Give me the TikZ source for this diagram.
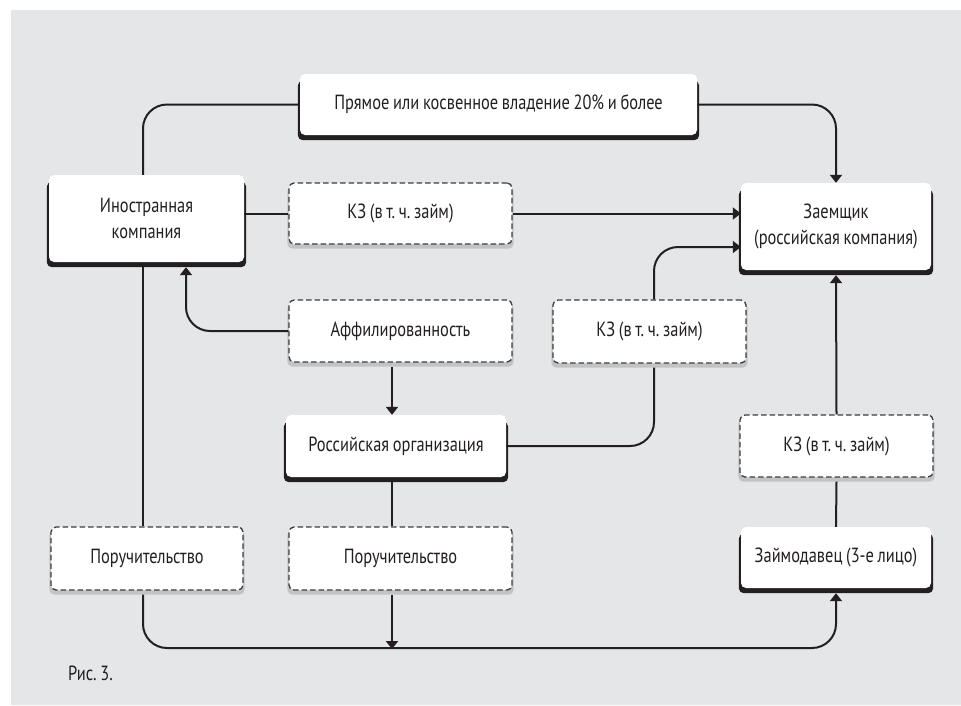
\documentclass[tikz,border=0pt]{standalone}
\usepackage{fontspec}
\setmainfont[FakeStretch=0.8,WordSpace=0.85]{PT Sans}
\frenchspacing
\usetikzlibrary{arrows.meta}
\definecolor{bggray}{HTML}{E5E6E8}
\definecolor{dashgray}{HTML}{3C3C3C}
\definecolor{shgray}{HTML}{C2C3C5}
\definecolor{ink}{HTML}{231F20}
\pgfdeclarelayer{bglayer}
\pgfdeclarelayer{shadowlayer}
\pgfsetlayers{bglayer,shadowlayer,main}
\tikzset{
  txt/.style={font=\fontsize{20.5}{26}\selectfont, text=ink, align=center, inner sep=0pt},
  solidbox/.style={txt, fill=white, rounded corners=5pt},
  dashbox/.style={txt, fill=white, draw=dashgray, line width=1.3pt, dash pattern=on 5.5pt off 3pt, rounded corners=5pt},
  conn/.style={draw=ink, line width=2pt, rounded corners=24pt},
  arr/.style={conn, -{Triangle[width=12pt,length=8pt]}},
}
\begin{document}
\begin{tikzpicture}[x=1pt,y=-1pt]
\useasboundingbox (0,0) rectangle (961,705);
\begin{pgfonlayer}{bglayer}
\fill[bggray, rounded corners=6pt] (11,10) -- (961,10) [sharp corners] -- (961,705) -- (11,705) -- cycle;
\fill[bggray] (900,10) rectangle (961,705);
\end{pgfonlayer}

% solid boxes
\node[solidbox, minimum width=397pt, minimum height=61pt] (top) at (498.5,104.5) {Прямое или косвенное владение 20\% и более};
\node[solidbox, minimum width=195pt, minimum height=87pt] (ino) at (146.5,218.5) {Иностранная\\компания};
\node[solidbox, minimum width=190pt, minimum height=87pt] (zaem) at (836,226.5) {Заемщик\\(российская компания)};
\node[solidbox, minimum width=220pt, minimum height=62pt] (rus) at (396,446) {Российская организация};
\node[solidbox, minimum width=190pt, minimum height=61pt] (zaim) at (836,557.5) {Займодавец (3-е лицо)};

% dashed boxes
\node[dashbox, minimum width=223pt, minimum height=61pt] (kz1) at (400.5,213.5) {КЗ (в т. ч. займ)};
\node[dashbox, minimum width=223pt, minimum height=62pt] (aff) at (400.5,331) {Аффилированность};
\node[dashbox, minimum width=193pt, minimum height=63pt] (kz2) at (649.5,331.5) {КЗ (в т. ч. займ)};
\node[dashbox, minimum width=193pt, minimum height=62pt] (kz3) at (836.5,446) {КЗ (в т. ч. займ)};
\node[dashbox, minimum width=192pt, minimum height=63pt] (por1) at (147,558.5) {Поручительство};
\node[dashbox, minimum width=223pt, minimum height=63pt] (por2) at (400.5,558.5) {Поручительство};

\node[txt, anchor=west] (cap) at (68,673) {Рис. 3.};

\begin{pgfonlayer}{shadowlayer}
\foreach \n in {top,ino,zaem,rus,zaim}
  \fill[ink, rounded corners=5pt] ([xshift=-2pt,yshift=-7pt]\n.north west) rectangle ([xshift=2pt,yshift=-5pt]\n.south east);
\foreach \n in {kz1,aff,kz2,kz3,por1,por2}
  \fill[shgray, rounded corners=5pt] ([xshift=-1pt,yshift=-4pt]\n.north west) rectangle ([xshift=1pt,yshift=-4pt]\n.south east);
\end{pgfonlayer}

\coordinate (bus) at (392,648);

% connectors
\draw[conn] ([xshift=-3.5pt]ino.north) |- (top.west);
\draw[arr] (top.east) -| (zaem.north);
\draw[conn, rounded corners=0pt] (kz1.west -| ino.east) -- (kz1.west);
\draw[arr, rounded corners=0pt] (kz1.east) -- (kz1.east -| zaem.west);
\draw[arr] (aff.west) -| ([xshift=39.5pt,yshift=-5pt]ino.south);
\draw[arr] ([xshift=-8.5pt,yshift=-4pt]aff.south) -- ([xshift=-4pt]rus.north);
\draw[conn] (rus.east) -| ([xshift=4.5pt,yshift=-4pt]kz2.south);
\draw[arr] ([xshift=4.5pt]kz2.north) |- ([yshift=-20.5pt]zaem.west);
\draw[arr] (kz3.north) -- ([yshift=-5pt]zaem.south);
\draw[conn] (zaim.north) -- ([yshift=-4pt]kz3.south);
\draw[conn] ([xshift=-3.5pt,yshift=-5pt]ino.south) -- ([xshift=-4pt]por1.north);
\draw[arr] ([xshift=-4pt,yshift=-4pt]por1.south) -- ([xshift=-4pt]por1.south |- bus) -- (bus -| zaim.south) -- ([yshift=-5pt]zaim.south);
\draw[conn] ([xshift=-4pt,yshift=-5pt]rus.south) -- ([xshift=-8.5pt]por2.north);
\draw[arr] ([xshift=-8.5pt,yshift=-4pt]por2.south) -- ([yshift=-1pt]bus);
\end{tikzpicture}
\end{document}
